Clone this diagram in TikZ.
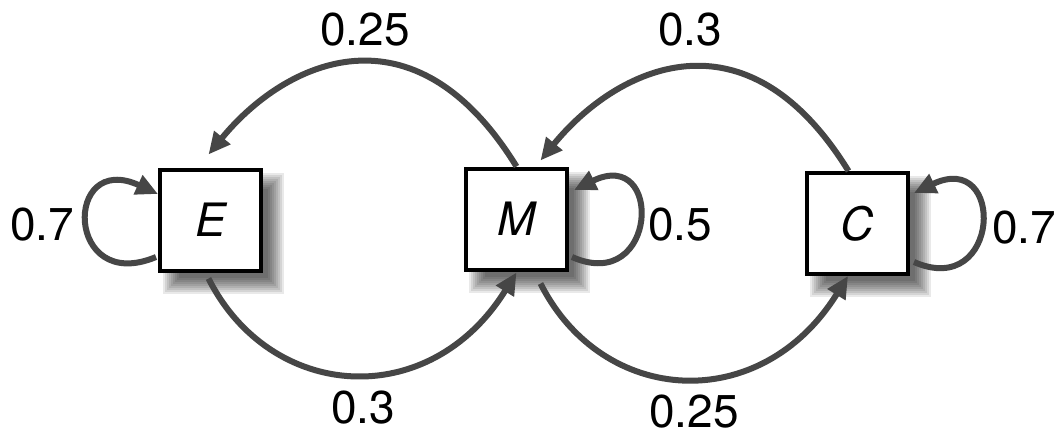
\documentclass[tikz,border=0pt]{standalone}
\usepackage{fontspec}
\setmainfont{TeX Gyre Heros}
\usetikzlibrary{arrows.meta,calc,backgrounds}
\definecolor{edgegray}{HTML}{464646}
\begin{document}
\begin{tikzpicture}[x=1pt,y=-1pt,
  state/.style={draw=black, line width=4pt, fill=white, minimum size=101pt, inner sep=0pt,
    font=\fontsize{46}{50}\selectfont\itshape},
  edge/.style={draw=edgegray, line width=6pt, -{Triangle[length=22pt,width=20pt]}},
  lbl/.style={font=\fontsize{46}{50}\selectfont, inner sep=0pt}]
\useasboundingbox (0,0) rectangle (1055,432);
\node[state] (E) at (210.5,220) {E};
\node[state] (M) at (516.5,219) {M};
\node[state] (C) at (857.5,223.5) {C};
\begin{pgfonlayer}{background}
\fill[white] (0,0) rectangle (1055,432);
\foreach \n in {E,M,C}{
  \foreach \d in {-8,-6,...,8}{
    \fill[black,opacity=0.085] ($(\n.north west)+(13-\d,13-\d)$) rectangle ($(\n.south east)+(13+\d,13+\d)$);
  }
}
\end{pgfonlayer}
% top arcs
\draw[edge] (M.north) .. controls +(-103,-167) and +(76,-93) .. ($(E.north)+(-2,-13)$);
\draw[edge] ($(C.north)+(-9,0)$) .. controls +(-103,-167) and +(76,-93) .. ($(M.north)+(24,-6)$);
% bottom arcs
\draw[edge] ($(E.south)+(-2,6)$) .. controls +(62,123) and +(-87,140) .. ($(M.south)+(0,1)$);
\draw[edge] ($(M.south)+(24,12)$) .. controls +(62,123) and +(-87,140) .. ($(C.south)+(-9.5,0)$);
% self loops
\draw[edge] ($(E.west)+(-2,37)$) .. controls +(-91,38) and +(-95,-44) .. ($(E.west)+(0,-26)$);
\draw[edge] ($(M.east)+(3,38)$) .. controls +(86,38) and +(90,-44) .. ($(M.east)+(5,-29)$);
\draw[edge] ($(C.east)+(4,38.5)$) .. controls +(87,38) and +(92,-44) .. ($(C.east)+(4,-30.5)$);
% labels
\node[lbl] (l1) at (365,30) {0.25};
\node[lbl] (l2) at (690,30) {0.3};
\node[lbl] (l3) at (363,408) {0.3};
\node[lbl] (l4) at (694,412) {0.25};
\node[lbl] (l5) at (42,225) {0.7};
\node[lbl] (l6) at (680,225) {0.5};
\node[lbl] (l7) at (1024,228) {0.7};
\end{tikzpicture}
\end{document}
